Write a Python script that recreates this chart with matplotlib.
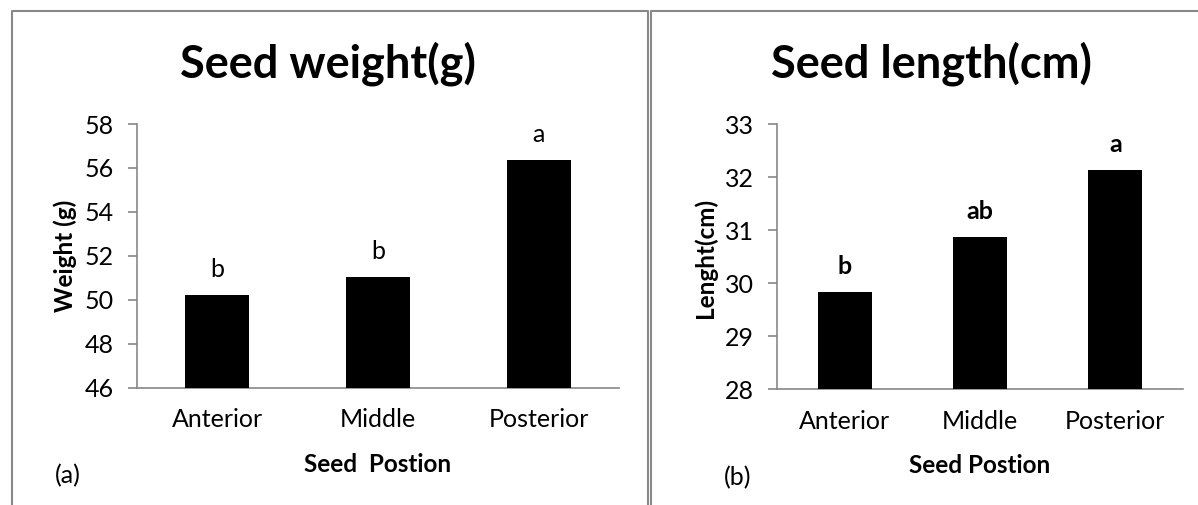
import matplotlib
matplotlib.use('Agg')
import matplotlib.pyplot as plt
from matplotlib.lines import Line2D

plt.rcParams['font.family'] = ['Lato', 'DejaVu Sans']

positions = ['Anterior', 'Middle', 'Posterior']
weight = [50.22, 51.05, 56.35]
weight_letters = ['b', 'b', 'a']
length = [29.83, 30.87, 32.13]
length_letters = ['b', 'ab', 'a']

W, H = 1198, 505
gray = '#888888'

fig = plt.figure(figsize=(W/100, H/100), dpi=100)

def box(x0, y0, x1, y1):
    # pixel box -> figure fraction [left, bottom, width, height]
    return [x0/W, 1 - y1/H, (x1 - x0)/W, (y1 - y0)/H]

def line(xs, ys):
    fig.add_artist(Line2D([x/W for x in xs], [1 - y/H for y in ys],
                          color=gray, lw=1.5, transform=fig.transFigure))

# panel frames
line([12, 12, 648, 648], [505, 11, 11, 505])
line([651, 651, 1198], [505, 11, 11])

def panel(ax, vals, letters, ylim, step, bold_letters):
    x = range(len(positions))
    ax.bar(x, vals, width=0.4, color='black', zorder=3)
    ax.set_xlim(-0.5, len(positions) - 0.5)
    ax.set_ylim(*ylim)
    ticks = list(range(ylim[0], ylim[1] + 1, step))
    ax.set_yticks(ticks)
    ax.set_xticks(list(x))
    ax.set_xticklabels(positions)
    for s in ['top', 'right']:
        ax.spines[s].set_visible(False)
    for s in ['left', 'bottom']:
        ax.spines[s].set_color(gray)
        ax.spines[s].set_linewidth(1.2)
    ax.tick_params(axis='y', direction='out', length=6.5, width=1.2,
                   color=gray, labelsize=18, pad=10)
    ax.tick_params(axis='x', length=0, labelsize=18, pad=15)
    for i, (v, t) in enumerate(zip(vals, letters)):
        ax.annotate(t, (i, v), xytext=(0, 13), textcoords='offset points',
                    ha='center', va='baseline', fontsize=18,
                    fontweight='bold' if bold_letters else 'normal')

ax1 = fig.add_axes(box(137, 124, 619, 387.5))
panel(ax1, weight, weight_letters, (46, 58), 2, False)

ax2 = fig.add_axes(box(777, 124, 1183, 389))
panel(ax2, length, length_letters, (28, 33), 1, True)

# titles
fig.text(328/W, 1 - 78/H, 'Seed weight(g)', fontsize=32.5, fontweight='bold',
         ha='center', va='baseline')
fig.text(931/W, 1 - 78/H, 'Seed length(cm)', fontsize=32.5, fontweight='bold',
         ha='center', va='baseline')

# axis labels
fig.text(65/W, 1 - 256/H, 'Weight (g)', rotation=90, fontsize=17.5,
         fontweight='bold', ha='center', va='center')
fig.text(705/W, 1 - 258/H, 'Lenght(cm)', rotation=90, fontsize=17.5,
         fontweight='bold', ha='center', va='center')
fig.text(378/W, 1 - 472/H, 'Seed  Postion', fontsize=17.5, fontweight='bold',
         ha='center', va='baseline')
fig.text(980/W, 1 - 473/H, 'Seed Postion', fontsize=17.5, fontweight='bold',
         ha='center', va='baseline')

# panel tags
fig.text(55/W, 1 - 483/H, '(a)', fontsize=18, ha='left', va='baseline')
fig.text(724/W, 1 - 485/H, '(b)', fontsize=18, ha='left', va='baseline')

fig.savefig('out.png', dpi=100)
